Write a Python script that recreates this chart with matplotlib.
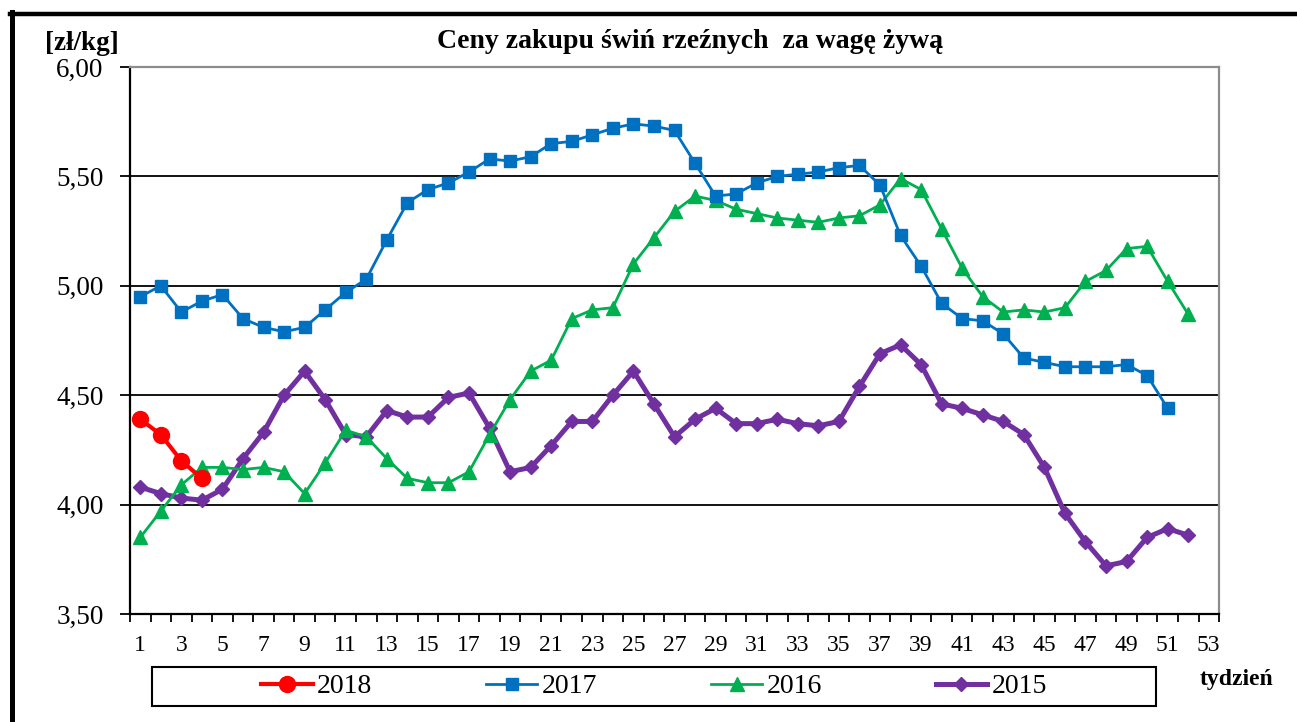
import matplotlib
matplotlib.use('Agg')
import matplotlib.pyplot as plt
from matplotlib.lines import Line2D
from matplotlib.patches import Rectangle

plt.rcParams['font.family'] = ['Liberation Serif', 'DejaVu Serif']

# weekly purchase prices of slaughter pigs, live weight [zł/kg]
weeks_2018 = [1, 2, 3, 4]
price_2018 = [4.39, 4.32, 4.20, 4.12]

weeks_2017 = list(range(1, 52))
price_2017 = [4.95, 5.00, 4.88, 4.93, 4.96, 4.85, 4.81, 4.79, 4.81, 4.89,
              4.97, 5.03, 5.21, 5.38, 5.44, 5.47, 5.52, 5.58, 5.57, 5.59,
              5.65, 5.66, 5.69, 5.72, 5.74, 5.73, 5.71, 5.56, 5.41, 5.42,
              5.47, 5.50, 5.51, 5.52, 5.54, 5.55, 5.46, 5.23, 5.09, 4.92,
              4.85, 4.84, 4.78, 4.67, 4.65, 4.63, 4.63, 4.63, 4.64, 4.59,
              4.44]

weeks_2016 = list(range(1, 53))
price_2016 = [3.85, 3.97, 4.09, 4.17, 4.17, 4.16, 4.17, 4.15, 4.05, 4.19,
              4.34, 4.31, 4.21, 4.12, 4.10, 4.10, 4.15, 4.32, 4.48, 4.61,
              4.66, 4.85, 4.89, 4.90, 5.10, 5.22, 5.34, 5.41, 5.39, 5.35,
              5.33, 5.31, 5.30, 5.29, 5.31, 5.32, 5.37, 5.49, 5.44, 5.26,
              5.08, 4.95, 4.88, 4.89, 4.88, 4.90, 5.02, 5.07, 5.17, 5.18,
              5.02, 4.87]

weeks_2015 = list(range(1, 53))
price_2015 = [4.08, 4.05, 4.03, 4.02, 4.07, 4.21, 4.33, 4.50, 4.61, 4.48,
              4.32, 4.31, 4.43, 4.40, 4.40, 4.49, 4.51, 4.35, 4.15, 4.17,
              4.27, 4.38, 4.38, 4.50, 4.61, 4.46, 4.31, 4.39, 4.44, 4.37,
              4.37, 4.39, 4.37, 4.36, 4.38, 4.54, 4.69, 4.73, 4.64, 4.46,
              4.44, 4.41, 4.38, 4.32, 4.17, 3.96, 3.83, 3.72, 3.74, 3.85,
              3.89, 3.86]

y_ticks = [3.5, 4.0, 4.5, 5.0, 5.5, 6.0]
y_ticklabels = ['3,50', '4,00', '4,50', '5,00', '5,50', '6,00']
x_ticks = list(range(1, 54, 2))
x_ticklabels = [str(w) for w in x_ticks]

fig = plt.figure(figsize=(12.97, 7.22), dpi=100)
ax = fig.add_axes([0.1002, 0.1496, 0.8397, 0.7576])

for y in y_ticks[1:-1]:
    ax.axhline(y, color='black', lw=1.3, zorder=1)

l15, = ax.plot(weeks_2015, price_2015, color='#7030A0', lw=3.6,
               marker='D', ms=7.5, zorder=3)
l16, = ax.plot(weeks_2016, price_2016, color='#00B050', lw=2.0,
               marker='^', ms=10.5, zorder=4)
l17, = ax.plot(weeks_2017, price_2017, color='#0070C0', lw=2.0,
               marker='s', ms=8.5, zorder=5)
l18, = ax.plot(weeks_2018, price_2018, color='#FF0000', lw=3.0,
               marker='o', ms=11.5, zorder=6)

ax.set_xlim(0.5, 53.5)
ax.set_ylim(3.5, 6.0)
ax.set_yticks(y_ticks)
ax.set_yticklabels(y_ticklabels, fontsize=19.5)
ax.set_xticks(x_ticks)
ax.set_xticklabels(x_ticklabels, fontsize=17)
ax.set_xticks([w + 0.5 for w in range(0, 54)], minor=True)
ax.tick_params(axis='x', which='major', length=0, pad=15)
ax.tick_params(axis='x', which='minor', length=6, width=1.3, direction='out')
ax.tick_params(axis='y', which='major', length=7, width=1.3, pad=12)

for side in ['left', 'bottom']:
    ax.spines[side].set_color('black')
    ax.spines[side].set_linewidth(1.6)
for side in ['top', 'right']:
    ax.spines[side].set_color('#8c8c8c')
    ax.spines[side].set_linewidth(1.6)

fig.text(0.532, 0.933, 'Ceny zakupu świń rzeźnych  za wagę żywą',
         fontsize=20, fontweight='bold', ha='center', va='baseline')
fig.text(45 / 1297, 0.931, '[zł/kg]', fontsize=19.5, fontweight='bold',
         ha='left', va='baseline')
fig.text(1237 / 1297, 1 - 680 / 722, 'tydzień', fontsize=17,
         fontweight='bold', ha='center', va='center')

# legend in a wide box under the axis
fig.add_artist(Rectangle((152 / 1297, 1 - 706 / 722), 1004 / 1297, 39 / 722,
                         transform=fig.transFigure, fill=False,
                         edgecolor='black', lw=1.5))
fig.legend([l18, l17, l16, l15], ['2018', '2017', '2016', '2015'],
           loc='center', bbox_to_anchor=(654 / 1297, 1 - 686.5 / 722),
           ncol=4, frameon=False, fontsize=20, handlelength=1.85,
           handletextpad=0.15, columnspacing=4.1)

# thick outer border on top and left
fig.add_artist(Line2D([10 / 1297, 1.0], [1 - 14 / 722, 1 - 14 / 722],
                      transform=fig.transFigure, color='black', lw=3.2))
fig.add_artist(Line2D([12 / 1297, 12 / 1297], [0.0, 1 - 12 / 722],
                      transform=fig.transFigure, color='black', lw=3.6))

fig.savefig('out.png', dpi=100)
